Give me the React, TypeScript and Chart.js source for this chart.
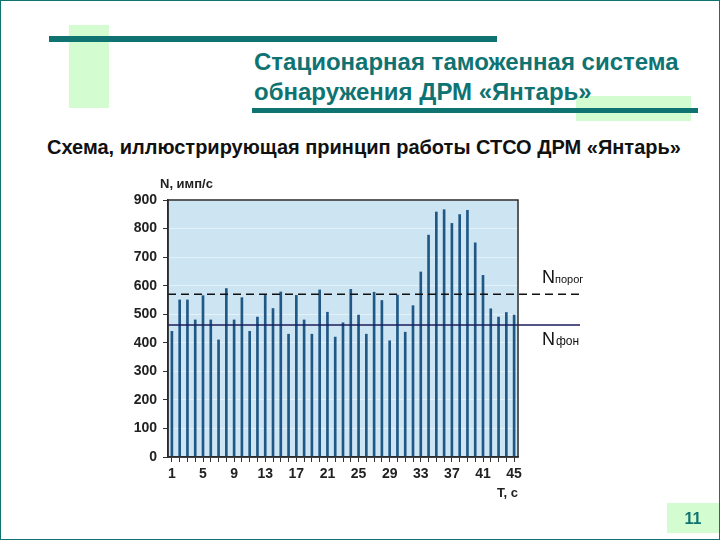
import React, { useEffect, useRef } from "react";
import { Chart, registerables } from "chart.js";

Chart.register(...registerables);

// ---- data ----
const timeLabels: string[] = [
  "1", "2", "3", "4", "5", "6", "7", "8", "9", "10",
  "11", "12", "13", "14", "15", "16", "17", "18", "19", "20",
  "21", "22", "23", "24", "25", "26", "27", "28", "29", "30",
  "31", "32", "33", "34", "35", "36", "37", "38", "39", "40",
  "41", "42", "43", "44", "45",
];
const countRates: number[] = [
  440, 550, 550, 480, 565, 480, 410, 590, 480, 558,
  440, 490, 566, 520, 578, 430, 566, 480, 430, 585,
  507, 420, 470, 587, 497, 430, 577, 548, 407, 567,
  437, 530, 648, 777, 858, 866, 818, 849, 864, 750,
  636, 519, 490, 506, 497,
];
const shownTimeLabels: string[] = ["1", "5", "9", "13", "17", "21", "25", "29", "33", "37", "41", "45"];
const thresholdLevel = 570; // N порог
const backgroundLevel = 462; // N фон
const yMin = 0;
const yMax = 900;
const yStep = 100;

const TEAL = "#0f7372";
const GREEN = "#d3fcd0";
const FONT = "'Liberation Sans', Arial, sans-serif";

function ChartCanvas() {
  const ref = useRef<HTMLCanvasElement | null>(null);
  useEffect(() => {
    if (!ref.current) return;
    const decor = {
      id: "decor",
      beforeDraw(chart: any) {
        const { ctx, chartArea: a } = chart;
        ctx.save();
        ctx.fillStyle = "#cde5f3";
        ctx.fillRect(a.left, a.top, a.right - a.left, a.bottom - a.top);
        ctx.restore();
      },
      afterDatasetsDraw(chart: any) {
        const { ctx, chartArea: a } = chart;
        const y = chart.scales.y;
        ctx.save();
        // threshold line
        const ty = y.getPixelForValue(thresholdLevel);
        ctx.strokeStyle = "#111";
        ctx.lineWidth = 1.5;
        ctx.setLineDash([8, 5]);
        ctx.beginPath();
        ctx.moveTo(a.left, ty);
        ctx.lineTo(584, ty);
        ctx.stroke();
        ctx.setLineDash([]);
        // background line
        const by = y.getPixelForValue(backgroundLevel);
        ctx.strokeStyle = "#1c1c5c";
        ctx.lineWidth = 1.5;
        ctx.beginPath();
        ctx.moveTo(a.left, by);
        ctx.lineTo(580, by);
        ctx.stroke();
        // frame
        ctx.strokeStyle = "#2a2a2a";
        ctx.lineWidth = 1.5;
        ctx.strokeRect(a.left, a.top, a.right - a.left, a.bottom - a.top);
        // labels
        ctx.fillStyle = "#111";
        ctx.textBaseline = "alphabetic";
        ctx.textAlign = "left";
        ctx.font = `18px ${FONT}`;
        ctx.fillText("N", 542, ty - 11);
        ctx.font = `11px ${FONT}`;
        ctx.fillText("порог", 555, ty - 11);
        ctx.font = `18px ${FONT}`;
        ctx.fillText("N", 542, by + 20);
        ctx.font = `12px ${FONT}`;
        ctx.fillText("фон", 556, by + 20);
        // axis titles
        ctx.font = `bold 13px ${FONT}`;
        ctx.fillStyle = "#222";
        ctx.textBaseline = "middle";
        ctx.fillText("N, имп/с", a.left - 8, a.top - 16);
        ctx.fillText("T, с", a.right - 21, a.bottom + 36);
        ctx.restore();
      },
    };
    const chart = new Chart(ref.current, {
      type: "bar",
      data: {
        labels: timeLabels,
        datasets: [
          {
            data: countRates,
            backgroundColor: "#1f5785",
            barThickness: 2,
          },
        ],
      },
      options: {
        responsive: false,
        animation: false,
        devicePixelRatio: 1,
        layout: { padding: { left: 128, top: 200, right: 202, bottom: 53 } },
        plugins: { legend: { display: false }, tooltip: { enabled: false } },
        scales: {
          x: {
            type: "category",
            offset: true,
            afterFit: (s: any) => {
              s.height = 30;
            },
            grid: {
              offset: false,
              drawOnChartArea: false,
              drawTicks: true,
              tickLength: 5,
              color: "#333",
            },
            border: { display: true, color: "#2a2a2a", width: 1.5 },
            ticks: {
              autoSkip: false,
              maxRotation: 0,
              padding: 4,
              color: "#222",
              font: { family: FONT, size: 14, weight: "bold" },
              callback: function (this: any, v: any, i: number) {
                const lbl = timeLabels[i];
                return shownTimeLabels.includes(lbl) ? lbl : "";
              },
            },
          },
          y: {
            min: yMin,
            max: yMax,
            afterFit: (s: any) => {
              s.width = 40;
            },
            grid: {
              drawOnChartArea: true,
              color: "rgba(255,255,255,0.45)",
              tickColor: "#333",
              tickLength: 5,
            },
            border: { display: true, color: "#2a2a2a", width: 1.5 },
            ticks: {
              stepSize: yStep,
              padding: 6,
              color: "#222",
              font: { family: FONT, size: 14, weight: "bold" },
            },
          },
        },
      },
      plugins: [decor],
    } as any);
    return () => chart.destroy();
  }, []);
  return (
    <canvas
      ref={ref}
      width={720}
      height={540}
      style={{ position: "absolute", left: 0, top: 0, width: 720, height: 540 }}
    />
  );
}

export default function App() {
  const abs = (s: React.CSSProperties): React.CSSProperties => ({ position: "absolute", ...s });
  return (
    <div
      style={{
        position: "fixed",
        left: 0,
        top: 0,
        width: 720,
        height: 540,
        background: "#fff",
        overflow: "hidden",
        fontFamily: FONT,
      }}
    >
      <div style={abs({ left: 69, top: 25, width: 40, height: 83, background: GREEN })} />
      <div style={abs({ left: 49, top: 36, width: 448, height: 6, background: TEAL })} />
      <div style={abs({ left: 576, top: 96, width: 115, height: 25, background: GREEN })} />
      <div style={abs({ left: 252, top: 108, width: 446, height: 5, background: TEAL })} />
      <div style={abs({ left: 667, top: 503, width: 53, height: 30, background: GREEN })} />
      <div
        style={abs({
          left: 254,
          top: 47,
          color: TEAL,
          fontSize: 24,
          fontWeight: "bold",
          lineHeight: "30px",
          whiteSpace: "nowrap",
        })}
      >
        Стационарная таможенная система
        <br />
        обнаружения ДРМ «Янтарь»
      </div>
      <div
        style={abs({
          left: 47,
          top: 135,
          color: "#111",
          fontSize: 20,
          fontWeight: "bold",
          lineHeight: "24px",
          whiteSpace: "nowrap",
        })}
      >
        Схема, иллюстрирующая принцип работы СТСО ДРМ «Янтарь»
      </div>
      <ChartCanvas />
      <div
        style={abs({
          left: 667,
          top: 508,
          width: 52,
          textAlign: "center",
          color: TEAL,
          fontSize: 16,
          fontWeight: "bold",
          lineHeight: "22px",
        })}
      >
        11
      </div>
      <div
        style={abs({
          left: 0,
          top: 0,
          width: 720,
          height: 540,
          boxSizing: "border-box",
          border: `1.5px solid ${TEAL}`,
          pointerEvents: "none",
        })}
      />
    </div>
  );
}
